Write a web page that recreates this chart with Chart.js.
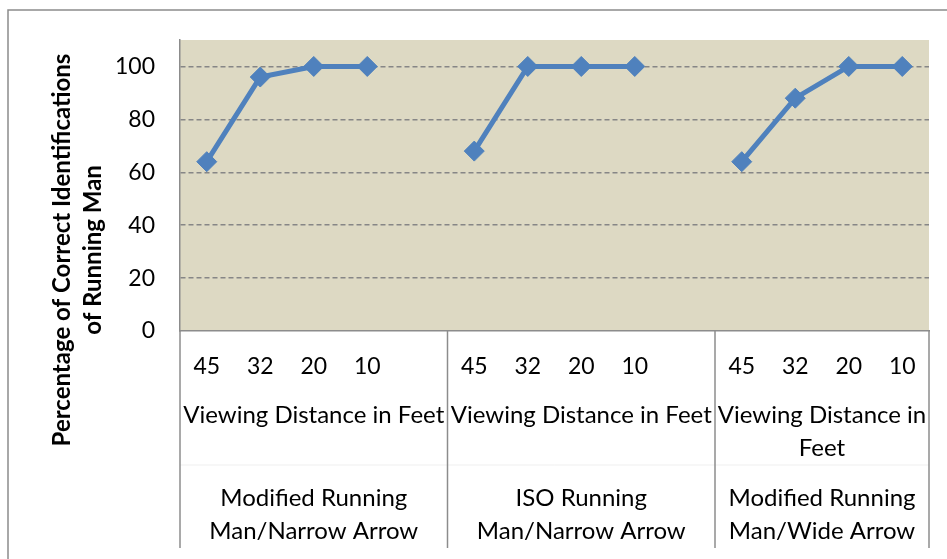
<!DOCTYPE html>
<html>
<head>
<meta charset="utf-8">
<script src="https://cdn.jsdelivr.net/npm/chart.js@4.4.1/dist/chart.umd.min.js"></script>
<style>
  html, body { margin: 0; padding: 0; background: #fff; }
  #wrap { width: 947px; height: 559px; position: relative; }
</style>
</head>
<body>
<div id="wrap"><canvas id="chart" width="947" height="559"></canvas></div>
<script>
// distances per group, blank slot separates the groups
const distances = ['45', '32', '20', '10', '', '45', '32', '20', '10', '', '45', '32', '20', '10'];
const correctPct = [64, 96, 100, 100, null, 68, 100, 100, 100, null, 64, 88, 100, 100];
const yTicks = [0, 20, 40, 60, 80, 100];
const groupSlots = [[0, 4], [5, 9], [10, 13]];
const subLabels = [['Viewing Distance in Feet'], ['Viewing Distance in Feet'], ['Viewing Distance in', 'Feet']];
const groupNames = [
  ['Modified Running', 'Man/Narrow Arrow'],
  ['ISO Running', 'Man/Narrow Arrow'],
  ['Modified Running', 'Man/Wide Arrow']
];
const yTitle = ['Percentage of Correct Identifications', 'of Running Man'];

const FONT = 'Lato';
const lineGray = '#8c8c8c';

const plotBg = {
  id: 'plotBg',
  beforeDraw(chart) {
    const { ctx, chartArea: a } = chart;
    ctx.save();
    ctx.fillStyle = '#DDD9C3';
    ctx.fillRect(a.left, a.top, a.right - a.left, a.bottom - a.top);
    ctx.restore();
  }
};

const extras = {
  id: 'extras',
  afterDraw(chart) {
    const { ctx, chartArea: a } = chart;
    const x = chart.scales.x;
    const H = chart.height;
    const slotW = x.getPixelForValue(1) - x.getPixelForValue(0);
    ctx.save();

    // outer frame (left + top)
    ctx.strokeStyle = lineGray;
    ctx.lineWidth = 1.5;
    ctx.beginPath();
    ctx.moveTo(8, H);
    ctx.lineTo(8, 10);
    ctx.lineTo(chart.width, 10);
    ctx.stroke();

    // faint row separator
    ctx.strokeStyle = '#efefef';
    ctx.lineWidth = 1;
    ctx.beginPath();
    ctx.moveTo(a.left, 465);
    ctx.lineTo(a.right, 465);
    ctx.stroke();

    // group dividers below the plot
    ctx.strokeStyle = lineGray;
    ctx.lineWidth = 1.5;
    const edges = [a.left];
    groupSlots.forEach(g => edges.push(Math.min(a.right, x.getPixelForValue(g[1]) + slotW / 2)));
    edges.forEach(e => {
      ctx.beginPath();
      ctx.moveTo(e, a.bottom);
      ctx.lineTo(e, 548);
      ctx.stroke();
    });

    // group text
    ctx.fillStyle = '#000';
    ctx.textAlign = 'center';
    ctx.textBaseline = 'middle';
    ctx.font = '24px ' + FONT;
    groupSlots.forEach((g, i) => {
      const cx = (edges[i] + edges[i + 1]) / 2;
      subLabels[i].forEach((t, j) => ctx.fillText(t, cx, 415 + j * 33));
      groupNames[i].forEach((t, j) => ctx.fillText(t, cx, 498 + j * 33));
    });

    // y axis title
    ctx.font = 'bold 24px ' + FONT;
    ctx.translate(0, 250);
    ctx.rotate(-Math.PI / 2);
    ctx.fillText(yTitle[0], 0, 62);
    ctx.fillText(yTitle[1], 0, 93);
    ctx.restore();
  }
};

new Chart(document.getElementById('chart'), {
  type: 'line',
  data: {
    labels: distances,
    datasets: [{
      data: correctPct,
      borderColor: '#4F81BD',
      backgroundColor: '#4F81BD',
      borderWidth: 5,
      pointStyle: 'rectRot',
      pointRadius: 10,
      pointBorderWidth: 1,
      tension: 0,
      spanGaps: false
    }]
  },
  options: {
    responsive: false,
    animation: false,
    layout: { padding: { top: 40, right: 18, left: 0, bottom: 0 } },
    plugins: { legend: { display: false }, tooltip: { enabled: false } },
    scales: {
      x: {
        offset: true,
        grid: { display: false },
        border: { display: true, color: lineGray, width: 1.5 },
        ticks: { color: '#000', font: { family: FONT, size: 23 }, padding: 14, maxRotation: 0, autoSkip: false },
        afterFit(scale) { scale.height = 559 - 331; }
      },
      y: {
        min: 0,
        max: 110,
        afterBuildTicks(scale) { scale.ticks = yTicks.map(v => ({ value: v })); },
        grid: {
          color: ctx => ctx.tick && ctx.tick.value === 0 ? 'rgba(0,0,0,0)' : '#868686',
          lineWidth: 1.5,
          drawTicks: false
        },
        border: { display: true, color: lineGray, width: 1.5, dash: [5, 3] },
        ticks: { color: '#000', font: { family: FONT, size: 23 }, padding: 25 },
        afterFit(scale) { scale.width = 180; }
      }
    }
  },
  plugins: [plotBg, extras]
});
</script>
</body>
</html>
